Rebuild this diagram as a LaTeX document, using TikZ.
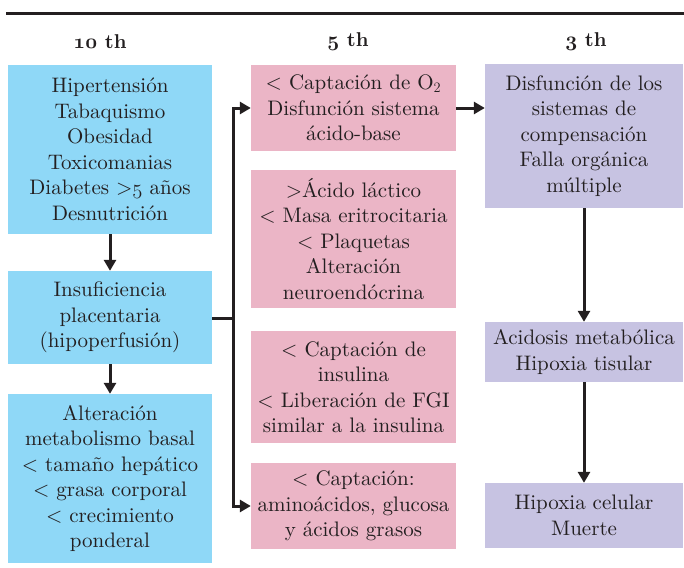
\documentclass[tikz,border=0pt]{standalone}
\usepackage{fontspec}
\setmainfont{lmroman10-regular}[Extension=.otf, BoldFont=lmroman10-bold]
\usepackage{tikz}
\usetikzlibrary{arrows.meta}
\usepackage{xcolor}
\definecolor{boxblue}{HTML}{8FD8F7}
\definecolor{boxpink}{HTML}{EBB5C6}
\definecolor{boxlilac}{HTML}{C7C3E2}
\definecolor{ink}{HTML}{231F20}
\newcommand{\osnum}[1]{{\usefont{OML}{cmm}{m}{it}#1}}
\newcommand{\osbold}[1]{{\usefont{OML}{cmm}{b}{it}#1}}

\begin{document}
\begin{tikzpicture}[x=1pt,y=1pt,
        every node/.style={text=ink, font=\fontsize{21}{25.5}\selectfont, align=center, inner sep=1pt},
        bluebox/.style={fill=boxblue, minimum width=204pt},
        pinkbox/.style={fill=boxpink, minimum width=205pt},
        lilacbox/.style={fill=boxlilac, minimum width=198pt},
        head/.style={font=\fontsize{20}{24}\selectfont\bfseries},
        link/.style={draw=ink, line width=3pt},
        flow/.style={link, -{Triangle[length=11pt,width=12pt]}}]
        \useasboundingbox (0,0) rectangle (684,-567);
        \draw[draw=ink, line width=3pt] (6,-14) -- (684,-14);
        \node[head] (h1) at (100,-42) {\osbold{10} th};
        \node[head] (h2) at (348,-42) {\osbold{5} th};
        \node[head] (h3) at (586,-42) {\osbold{3} th};
        % first column
        \node[bluebox, minimum height=169pt] (b1) at (110,-149.5) {Hipertensión\\Tabaquismo\\Obesidad\\Toxicomanias\\Diabetes >\osnum{5} años\\Desnutrición};
        \node[bluebox, minimum height=93pt] (b2) at (110,-317.5) {Insuficiencia\\placentaria\\(hipoperfusión)};
        \node[bluebox, minimum height=169pt] (b3) at (110,-478.5) {Alteración\\metabolismo basal\\< tamaño hepático\\< grasa corporal\\< crecimiento\\ponderal};
        % second column
        \node[pinkbox, minimum height=86pt] (p1) at (353.5,-108) {< Captación de O$_2$\\Disfunción sistema\\ácido-base};
        \node[pinkbox, minimum height=138pt] (p2) at (353.5,-239) {>Ácido láctico\\< Masa eritrocitaria\\< Plaquetas\\Alteración\\neuroendócrina};
        \node[pinkbox, minimum height=112pt] (p3) at (353.5,-387) {< Captación de\\insulina\\< Liberación de FGI\\similar a la insulina};
        \node[pinkbox, minimum height=86pt] (p4) at (353.5,-506) {< Captación:\\aminoácidos, glucosa\\y ácidos grasos};
        % third column
        \node[lilacbox, minimum height=144pt] (l1) at (584,-136) {Disfunción de los\\sistemas de\\compensación\\Falla orgánica\\múltiple};
        \node[lilacbox, minimum height=60pt] (l2) at (584,-352) {Acidosis metabólica\\Hipoxia tisular};
        \node[lilacbox, minimum height=65pt] (l3) at (584,-515.5) {Hipoxia celular\\Muerte};
        % connectors
        \coordinate (jn) at (233,-318);
        \draw[flow] (b1) -- (b2);
        \draw[flow] (b2) -- (b3);
        \draw[link] (b2.east |- jn) -- (jn);
        \draw[flow] (jn) |- (p1.west);
        \draw[flow] (jn) |- (p4.west);
        \draw[flow] (p1.east) -- (p1.east -| l1.west);
        \draw[flow] (l1) -- (l2);
        \draw[flow] (l2) -- (l3);
    \end{tikzpicture}
\end{document}
